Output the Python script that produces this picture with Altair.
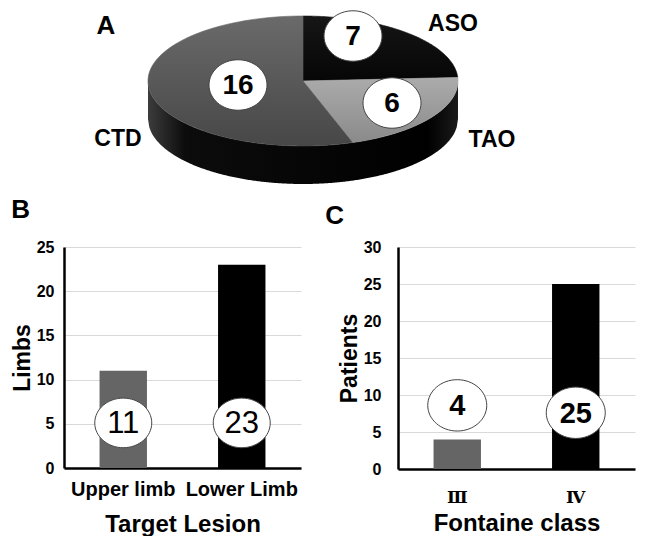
import altair as alt
import numpy as np
import pandas as pd

# ---------------- data ----------------
pie_groups = ["ASO", "TAO", "CTD"]
pie_counts = [7, 6, 16]

lesion_sites = ["Upper limb", "Lower Limb"]
lesion_limbs = [11, 23]

fontaine_classes = ["Ⅲ", "Ⅳ"]
fontaine_patients = [4, 25]

# ---------------- style ----------------
FONT = "Liberation Sans, Arial, sans-serif"
NARROW = "Liberation Sans Narrow, Liberation Sans, Arial, sans-serif"
ROMAN = "DejaVu Serif, Noto Sans CJK JP, serif"

# pie view expressed in page-like units (view is aligned with panel B's plot origin)
PX0, PX1 = 64, 638
PY0, PY1 = 8, 188
CX, CY, RX, RY, DEPTH = 303, 73, 155, 65, 38
pie_fill = {
    "ASO": ("#161616", "#060606"),
    "TAO": ("#ababab", "#8a8a8a"),
    "CTD": ("#6a6a6a", "#474747"),
}

# custom ellipse symbol (width = sqrt(size))
ELL = ("M-1,0C-1,-0.48 -0.552,-0.87 0,-0.87C0.552,-0.87 1,-0.48 1,0"
       "C1,0.48 0.552,0.87 0,0.87C-0.552,0.87 -1,0.48 -1,0Z")

# ---------------- pie geometry (derived from counts) ----------------
total = float(sum(pie_counts))
rows = []
acc = 0.0
for g, c in zip(pie_groups, pie_counts):
    a = np.linspace(acc / total, (acc + c) / total, 90) * 2 * np.pi
    xs = np.concatenate([[CX], CX + RX * np.sin(a), [CX]])
    ys = np.concatenate([[CY], CY - RY * np.cos(a), [CY]])
    for i, (px_, py_) in enumerate(zip(xs, ys)):
        rows.append({"group": g, "i": i, "x": float(px_), "y": float(py_)})
    acc += c
top_df = pd.DataFrame(rows)

sx = np.linspace(CX - RX, CX + RX, 241)
s_top = CY + RY * np.sqrt(np.clip(1 - ((sx - CX) / RX) ** 2, 0, 1))
side_df = pd.DataFrame({"x": sx, "y": s_top, "y2": s_top + DEPTH})

pxs = alt.Scale(domain=[PX0, PX1], nice=False, zero=False)
pys = alt.Scale(domain=[PY0, PY1], nice=False, zero=False, reverse=True)


def pxd(v):
    return alt.datum(v, scale=pxs, axis=None)


def pyd(v):
    return alt.datum(v, scale=pys, axis=None)


def vgrad(c0, c1):
    return alt.Gradient(gradient="linear", x1=0, x2=0, y1=0, y2=1,
                        stops=[alt.GradientStop(offset=0, color=c0),
                               alt.GradientStop(offset=1, color=c1)])


side = alt.Chart(side_df).mark_area(
    color=alt.Gradient(
        gradient="linear", x1=0, x2=1, y1=0, y2=0,
        stops=[alt.GradientStop(offset=0, color="#3c3c3c"),
               alt.GradientStop(offset=0.12, color="#0c0c0c"),
               alt.GradientStop(offset=0.9, color="#000000"),
               alt.GradientStop(offset=1, color="#1a1a1a")])
).encode(
    x=alt.X("x:Q", scale=pxs, axis=None),
    y=alt.Y("y:Q", scale=pys, axis=None),
    y2="y2:Q",
)

pie_layers = [side]
for g in pie_groups:
    c0, c1 = pie_fill[g]
    pie_layers.append(
        alt.Chart(top_df).transform_filter(alt.datum.group == g)
        .mark_line(fill=vgrad(c0, c1), stroke=vgrad(c0, c1), strokeWidth=0.6, fillOpacity=1)
        .encode(x=alt.X("x:Q", scale=pxs, axis=None),
                y=alt.Y("y:Q", scale=pys, axis=None),
                order=alt.Order("i:Q"))
    )

# value bubbles and names on the pie (annotation anchors)
pie_bubble_pos = {"ASO": (353, 28), "TAO": (392, 95), "CTD": (238, 77)}
pie_name_pos = {"ASO": (453, 16), "TAO": (492, 132), "CTD": (118, 131)}
for g, c in zip(pie_groups, pie_counts):
    bx, by = pie_bubble_pos[g]
    pie_layers.append(
        alt.Chart().mark_point(shape=ELL, size=3364, filled=True, fill="white",
                               stroke="#444444", strokeWidth=1, opacity=1)
        .encode(x=pxd(bx), y=pyd(by))
    )
    pie_layers.append(
        alt.Chart().mark_text(text=str(c), font=FONT, fontSize=28, fontWeight="bold",
                              color="black", baseline="middle", align="center", dy=1)
        .encode(x=pxd(bx), y=pyd(by))
    )
    nx, ny = pie_name_pos[g]
    pie_layers.append(
        alt.Chart().mark_text(text=g, font=FONT, fontSize=23, fontWeight="bold",
                              color="black", baseline="middle", align="center")
        .encode(x=pxd(nx), y=pyd(ny))
    )
pie_layers.append(
    alt.Chart().mark_text(text="A", font=FONT, fontSize=26, fontWeight="bold",
                          color="black", baseline="middle", align="center")
    .encode(x=pxd(106), y=pyd(18))
)
pie = alt.layer(*pie_layers).properties(width=PX1 - PX0, height=PY1 - PY0)


# ---------------- bar panels ----------------
def bar_panel(cats, vals, colors, letter, ytitle, xtitle, ymax, w, h,
              bubble_y, num_font, num_weight, num_size, bubble_w,
              xlab_font, xlab_size, y_label_pad, x_label_pad, x_title_pad,
              title_offset, title_dx):
    df = pd.DataFrame({"cat": cats, "val": vals})
    xs_ = alt.Scale(domain=cats, paddingInner=0.6, paddingOuter=0.3)
    ys_ = alt.Scale(domain=[0, ymax], nice=False)
    xax = alt.Axis(title=xtitle, labelAngle=0, labelFont=xlab_font, labelFontSize=xlab_size,
                   labelFontWeight="bold", labelColor="black", labelPadding=x_label_pad,
                   titleFont=FONT, titleFontSize=24, titleFontWeight="bold", titleColor="black",
                   titlePadding=x_title_pad, ticks=False, domainColor="black", domainWidth=2.5,
                   grid=False)
    yax = alt.Axis(values=list(range(0, ymax + 1, 5)), title=ytitle,
                   labelFont=FONT, labelFontSize=16, labelFontWeight="bold", labelColor="black",
                   labelPadding=y_label_pad, titleFont=FONT, titleFontSize=23,
                   titleFontWeight="bold", titleColor="black", titlePadding=2, ticks=False,
                   domainColor="black", domainWidth=2.5, grid=True, gridColor="#d9d9d9",
                   gridWidth=1)
    bars = alt.Chart(df).mark_bar().encode(
        x=alt.X("cat:N", sort=cats, scale=xs_, axis=xax, title=xtitle),
        y=alt.Y("val:Q", scale=ys_, axis=yax, title=ytitle),
        color=alt.Color("cat:N", scale=alt.Scale(domain=cats, range=colors), legend=None),
    )
    layers = [bars]
    for cat, v, by in zip(cats, vals, bubble_y):
        enc = dict(x=alt.datum(cat, type="nominal", axis=xax, title=xtitle),
                   y=alt.datum(by, type="quantitative", axis=yax, title=ytitle))
        layers.append(
            alt.Chart().mark_point(shape=ELL, size=bubble_w ** 2, filled=True, fill="white",
                                   stroke="#444444", strokeWidth=1, opacity=1)
            .encode(**enc)
        )
        layers.append(
            alt.Chart().mark_text(text=str(v), font=num_font, fontSize=num_size,
                                  fontWeight=num_weight, color="black",
                                  baseline="middle", align="center", dy=1)
            .encode(**enc)
        )
    return alt.layer(*layers).properties(
        width=w, height=h,
        title=alt.TitleParams(letter, anchor="start", font=FONT, fontSize=26,
                              fontWeight="bold", color="black", offset=title_offset,
                              dx=title_dx),
    )


panel_b = bar_panel(lesion_sites, lesion_limbs, ["#656565", "#000000"], "B", "Limbs",
                    "Target Lesion", 25, 237, 221, [5.1, 5.1], NARROW, "normal", 31, 57,
                    FONT, 20, 10, 11, 13, 16, 0)
panel_c = bar_panel(fontaine_classes, fontaine_patients, ["#656565", "#000000"], "C", "Patients",
                    "Fontaine class", 30, 237, 222, [8.6, 7.6], FONT, "bold", 29, 59,
                    ROMAN, 17, 17, 20, 6, 10, -13)

bottom = alt.hconcat(panel_b, panel_c, spacing=24)

chart = alt.vconcat(pie, bottom, spacing=1).properties(
    padding={"left": 3, "top": 0, "right": 0, "bottom": 0}, background="white"
).configure_view(strokeWidth=0)

chart.save("out.html", embed_options={"renderer": "svg", "actions": False})
